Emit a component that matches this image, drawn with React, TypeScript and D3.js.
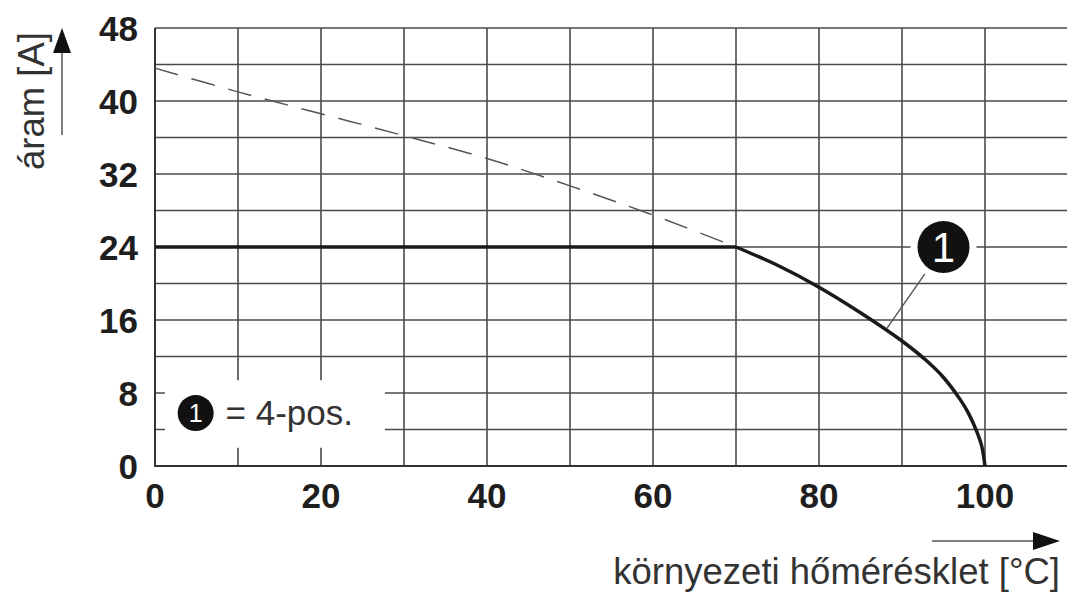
import React, { useEffect, useRef } from 'react';
import * as d3 from 'd3';

// axis ticks / grid
const xTicks = [0, 20, 40, 60, 80, 100];
const yTicks = [0, 8, 16, 24, 32, 40, 48];
const xGrid = [0, 10, 20, 30, 40, 50, 60, 70, 80, 90, 100, 110];
const yGrid = [0, 4, 8, 12, 16, 20, 24, 28, 32, 36, 40, 44, 48];

// curve 1 (4-pos.)
const flatTemp = [0, 70];
const flatCurrent = [24, 24];
const derateTemp = [70, 75, 80, 85, 90, 93, 95, 97, 98, 99, 99.6, 100];
const derateCurrent = [24, 22.0, 19.6, 16.8, 13.7, 11.5, 9.7, 7.3, 5.8, 3.8, 2.2, 0];
// dashed extrapolation
const extrapTemp = [0, 10, 20, 30, 40, 50, 60, 70];
const extrapCurrent = [43.6, 41.0, 38.6, 36.2, 33.7, 30.7, 27.5, 24];

const yTitle = 'áram [A]';
const xTitle = 'környezeti hőmérésklet [°C]';
const legendText = '= 4-pos.';
const markerLabel = '1';

const FONT = '"Liberation Sans", Arial, Helvetica, sans-serif';

const App = () => {
  const ref = useRef<SVGSVGElement>(null);

  useEffect(() => {
    if (!ref.current) return;
    const svg = d3.select(ref.current);
    svg.selectAll('*').remove();

    const x = d3.scaleLinear().domain([0, 110]).range([155, 1068]);
    const y = d3.scaleLinear().domain([0, 48]).range([466, 28]);
    const gridColor = '#4a4a4a';

    const g = svg.append('g');

    // grid
    g.selectAll('.vgrid')
      .data(xGrid)
      .enter().append('line')
      .attr('x1', d => x(d)).attr('x2', d => x(d))
      .attr('y1', y(0)).attr('y2', y(48))
      .attr('stroke', gridColor).attr('stroke-width', 1.6);

    g.selectAll('.hgrid')
      .data(yGrid)
      .enter().append('line')
      .attr('x1', x(0)).attr('x2', x(110))
      .attr('y1', d => y(d)).attr('y2', d => y(d))
      .attr('stroke', gridColor).attr('stroke-width', 1.6);

    // legend box cut out of the grid
    g.append('rect')
      .attr('x', x(1.2)).attr('y', y(9.4))
      .attr('width', x(27.7) - x(1.2)).attr('height', y(2) - y(9.4))
      .attr('fill', '#fff');

    // plot frame (left / bottom)
    g.append('line')
      .attr('x1', x(0)).attr('x2', x(0)).attr('y1', y(0) + 1).attr('y2', y(48))
      .attr('stroke', '#333').attr('stroke-width', 2);
    g.append('line')
      .attr('x1', x(0)).attr('x2', x(110)).attr('y1', y(0)).attr('y2', y(0))
      .attr('stroke', '#333').attr('stroke-width', 2);

    // dashed extrapolation
    g.append('path')
      .attr('d', d3.line<number>()
        .x(d => x(d))
        .y((_, i) => y(extrapCurrent[i]))
        .curve(d3.curveCatmullRom.alpha(0.5))(extrapTemp))
      .attr('fill', 'none').attr('stroke', '#555')
      .attr('stroke-width', 1.5).attr('stroke-dasharray', '24,14');

    // flat part
    g.append('path')
      .attr('d', d3.line<number>()
        .x(d => x(d))
        .y((_, i) => y(flatCurrent[i]))(flatTemp))
      .attr('fill', 'none').attr('stroke', '#1a1a1a').attr('stroke-width', 3.5);

    // derating curve
    g.append('path')
      .attr('d', d3.line<number>()
        .x(d => x(d))
        .y((_, i) => y(derateCurrent[i]))
        .curve(d3.curveCatmullRom.alpha(0.5))(derateTemp))
      .attr('fill', 'none').attr('stroke', '#1a1a1a').attr('stroke-width', 3.5)
      .attr('stroke-linecap', 'butt');

    // marker "1" on the curve
    const cx = x(95), cy = y(24);
    const tx = x(88.2), ty = y(15.1);
    const len = Math.hypot(tx - cx, ty - cy);
    g.append('line')
      .attr('x1', cx + (tx - cx) * 29 / len).attr('y1', cy + (ty - cy) * 29 / len)
      .attr('x2', tx).attr('y2', ty)
      .attr('stroke', '#555').attr('stroke-width', 1.4);
    g.append('circle').attr('cx', cx).attr('cy', cy).attr('r', 33).attr('fill', '#fff');
    g.append('circle').attr('cx', cx).attr('cy', cy).attr('r', 26).attr('fill', '#111');
    g.append('text')
      .attr('x', cx).attr('y', cy + 15)
      .attr('text-anchor', 'middle')
      .attr('font-family', FONT).attr('font-size', 42)
      .attr('fill', '#fff')
      .text(markerLabel);

    // legend
    const lx = x(4.9), ly = y(5.8);
    g.append('circle').attr('cx', lx).attr('cy', ly).attr('r', 18).attr('fill', '#111');
    g.append('text')
      .attr('x', lx).attr('y', ly + 9)
      .attr('text-anchor', 'middle')
      .attr('font-family', FONT).attr('font-size', 25)
      .attr('fill', '#fff')
      .text(markerLabel);
    g.append('text')
      .attr('x', x(8.5)).attr('y', ly + 12)
      .attr('font-family', FONT).attr('font-size', 35)
      .attr('fill', '#333')
      .text(legendText);

    // tick labels
    g.selectAll('.xlab')
      .data(xTicks)
      .enter().append('text')
      .attr('x', d => x(d)).attr('y', 508)
      .attr('text-anchor', 'middle')
      .attr('font-family', FONT).attr('font-size', 35).attr('font-weight', 'bold')
      .attr('fill', '#1e1e1e')
      .text(d => d);

    g.selectAll('.ylab')
      .data(yTicks)
      .enter().append('text')
      .attr('x', 138).attr('y', d => y(d) + 12.5)
      .attr('text-anchor', 'end')
      .attr('font-family', FONT).attr('font-size', 35).attr('font-weight', 'bold')
      .attr('fill', '#1e1e1e')
      .text(d => d);

    // axis titles + arrows
    g.append('text')
      .attr('transform', 'translate(44,101) rotate(-90)')
      .attr('text-anchor', 'middle')
      .attr('font-family', FONT).attr('font-size', 36.5)
      .attr('fill', '#333')
      .text(yTitle);
    g.append('line')
      .attr('x1', 62).attr('x2', 62).attr('y1', 135).attr('y2', 50)
      .attr('stroke', '#555').attr('stroke-width', 1.5);
    g.append('path').attr('d', 'M62,28 L53,53 L71,53 Z').attr('fill', '#111');

    g.append('text')
      .attr('x', 1060).attr('y', 584)
      .attr('text-anchor', 'end')
      .attr('font-family', FONT).attr('font-size', 36.5)
      .attr('fill', '#333')
      .text(xTitle);
    g.append('line')
      .attr('x1', 932).attr('x2', 1036).attr('y1', 541).attr('y2', 541)
      .attr('stroke', '#555').attr('stroke-width', 1.5);
    g.append('path').attr('d', 'M1060,541 L1033,532 L1033,550 Z').attr('fill', '#111');
  }, []);

  return (
    <svg
      ref={ref}
      width={1067}
      height={592}
      style={{ position: 'absolute', left: 0, top: 0, background: '#fff' }}
    />
  );
};

export default App;
